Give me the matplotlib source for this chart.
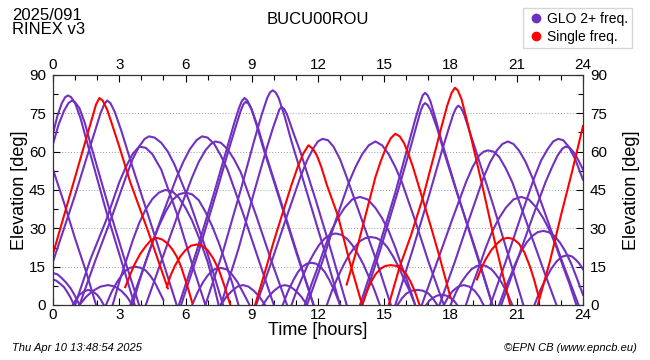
import numpy as np
import matplotlib.pyplot as plt
from matplotlib.lines import Line2D
from matplotlib.ticker import MultipleLocator

plt.rcParams['font.family'] = ['Liberation Sans', 'DejaVu Sans']

station = "BUCU00ROU"
day_label = "2025/091\nRINEX v3"
footer_left = "Thu Apr 10 13:48:54 2025"
footer_right = "\u00a9EPN CB (www.epncb.eu)"
legend_labels = ["GLO 2+ freq.", "Single freq."]

GLO_COLOR = "#7030c0"
SINGLE_COLOR = "#ff0000"

# satellite passes: (hour, elevation deg)
glo_passes = [
    [(0, 53), (0.5, 40), (1.0, 26), (1.5, 13), (1.95, 0)],
    [(0, 12.5), (0.2, 12), (0.4, 10.5), (0.6, 8.7), (0.8, 6.5), (1.0, 3.5), (1.2, 0)],
    [(0, 10), (0.15, 9.5), (0.3, 8.5), (0.5, 7), (0.65, 5), (0.8, 2.8), (0.95, 0)],
    [(0, 67), (0.2, 74), (0.4, 79), (0.55, 81.3), (0.68, 82), (0.82, 81.3), (1.0, 79), (1.25, 73),
     (1.5, 65), (2.4, 37), (3.0, 20), (3.7, 0)],
    [(0, 63), (0.25, 70.5), (0.5, 76), (0.7, 79), (0.86, 80), (1.0, 79.3), (1.2, 77), (1.45, 71),
     (1.7, 63), (2.5, 39), (3.2, 19), (3.9, 0)],
    [(0, 17), (0.5, 30), (1.0, 43), (1.5, 57), (1.9, 68), (2.15, 75), (2.32, 78.5), (2.45, 80),
     (2.6, 79), (2.8, 75.5), (3.1, 68), (3.6, 54), (4.5, 30), (5.6, 0)],
    [(1.0, 0), (1.7, 18), (2.4, 33), (3.0, 48), (3.3, 54), (3.6, 59), (3.9, 62), (4.2, 61.5),
     (4.5, 59), (4.9, 53), (5.6, 36), (6.3, 16), (6.9, 0)],
    [(1.2, 0), (1.9, 17), (2.6, 33), (3.3, 50), (3.6, 57), (3.9, 62), (4.15, 65), (4.35, 66),
     (4.6, 65.5), (4.9, 63.5), (5.2, 60), (5.5, 55), (6.2, 40), (7.0, 20), (7.7, 0)],
    [(2.7, 0), (3.0, 9), (3.3, 17), (3.6, 25), (3.9, 32), (4.2, 37.5), (4.5, 41.5), (4.8, 44),
     (5.08, 45), (5.4, 44.5), (5.7, 42), (6.0, 38), (6.3, 33), (6.65, 25.5), (7.0, 17), (7.25, 9), (7.5, 0)],
    [(3.6, 0), (3.9, 9), (4.2, 17), (4.5, 24.5), (4.8, 31), (5.1, 36.5), (5.4, 41), (5.7, 43.3),
     (6.0, 44), (6.3, 43.3), (6.6, 41), (6.9, 36.5), (7.2, 31), (7.5, 24.5), (7.8, 17), (8.1, 9), (8.4, 0)],
    [(0.9, 0), (1.05, 2.3), (1.2, 4), (1.4, 5.3), (1.6, 5.9), (1.8, 5.3), (2.0, 4), (2.15, 2.3), (2.3, 0)],
    [(1.2, 0), (1.5, 3.2), (1.8, 5.5), (2.15, 7.2), (2.5, 7.8), (2.8, 7.2), (3.1, 5.5), (3.35, 3.2), (3.6, 0)],
    [(2.4, 0), (2.65, 5), (2.9, 9), (3.1, 11.5), (3.3, 13.5), (3.5, 14.6), (3.72, 15), (3.95, 14.6),
     (4.2, 13.5), (4.4, 11.5), (4.6, 9), (4.8, 5.5), (5.0, 2)],
    [(3.5, 0), (4.2, 17), (4.9, 34), (5.6, 50), (5.9, 56), (6.2, 61), (6.5, 64.5), (6.75, 66),
     (7.0, 65.5), (7.3, 63), (7.6, 58.5), (7.9, 53), (8.6, 36), (9.3, 18), (10.0, 0)],
    [(4.2, 0), (4.9, 17), (5.6, 34), (6.3, 50), (6.6, 56), (6.9, 60.5), (7.15, 63), (7.35, 64),
     (7.6, 63.5), (7.9, 61), (8.2, 57), (8.5, 52), (9.2, 35), (9.9, 17), (10.6, 0)],
    [(6.3, 0), (6.55, 5), (6.8, 9), (7.0, 11.5), (7.2, 13.4), (7.4, 14.3), (7.6, 14.5), (7.85, 14),
     (8.1, 12), (8.35, 9), (8.6, 5), (8.9, 0)],
    [(7.6, 0), (7.85, 3.2), (8.1, 5.5), (8.35, 7.2), (8.6, 7.8), (8.85, 7.2), (9.1, 5.5), (9.35, 3.2), (9.6, 0)],
    [(9.5, 0), (9.75, 3.2), (10.0, 5.5), (10.25, 7.2), (10.5, 7.8), (10.75, 7.2), (11.0, 5.5), (11.25, 3.2), (11.5, 0)],
    [(10.4, 0), (10.65, 5.5), (10.9, 10), (11.1, 13), (11.3, 15), (11.5, 16.2), (11.7, 16.5),
     (11.9, 16.2), (12.1, 15), (12.3, 13), (12.5, 10), (12.75, 5.5), (13.0, 0)],
    [(5.7, 0), (6.5, 21), (7.3, 44), (7.9, 62), (8.2, 71), (8.42, 77), (8.55, 79.8), (8.67, 81),
     (8.8, 80), (8.95, 77.5), (9.2, 71), (9.5, 62), (10.2, 43), (11.0, 21), (11.8, 0)],
    [(5.8, 0), (6.6, 21), (7.4, 44), (8.0, 62), (8.3, 70.5), (8.5, 76), (8.62, 78.5), (8.72, 79.5),
     (8.85, 78.8), (9.0, 76.5), (9.3, 69), (9.6, 60), (10.3, 41), (11.1, 19), (11.8, 0)],
    [(6.9, 0), (7.7, 21), (8.5, 45), (9.1, 64), (9.45, 74.5), (9.7, 81), (9.83, 83.2), (9.95, 84),
     (10.08, 83.2), (10.22, 81), (10.5, 73.5), (10.8, 64), (11.5, 44), (12.3, 21), (13.0, 0)],
    [(7.6, 0), (8.4, 22), (9.1, 44), (9.7, 62), (9.95, 69), (10.15, 74), (10.25, 76.5), (10.35, 77.5),
     (10.47, 76.7), (10.6, 74.5), (10.9, 67), (11.2, 60), (11.9, 41), (12.6, 21), (13.3, 0)],
    [(9.2, 0), (9.9, 17), (10.6, 35), (11.2, 50), (11.5, 56.5), (11.8, 61.5), (12.0, 64), (12.2, 65),
     (12.45, 64.5), (12.7, 62), (13.0, 57), (13.3, 50), (14.0, 33), (14.7, 16), (15.3, 0)],
    [(11.5, 0), (12.2, 17), (12.8, 33), (13.4, 48), (13.7, 54), (14.0, 59), (14.3, 62.5), (14.6, 64),
     (14.9, 62.5), (15.2, 59), (15.5, 54), (15.8, 48), (16.4, 33), (17.0, 17), (17.7, 0)],
    [(11.4, 0), (11.7, 8), (12.0, 15), (12.3, 22.5), (12.6, 29), (12.9, 34), (13.2, 38), (13.55, 41.3),
     (13.9, 42.3), (14.25, 41.3), (14.6, 38), (14.9, 34), (15.2, 29), (15.5, 22.5), (15.8, 15), (16.1, 8), (16.4, 0)],
    [(10.8, 0), (11.05, 6), (11.3, 11), (11.55, 16), (11.8, 20), (12.05, 23.5), (12.3, 26), (12.55, 27.5),
     (12.8, 28), (13.05, 27.5), (13.3, 26), (13.55, 23.5), (13.8, 20), (14.05, 16), (14.3, 11), (14.55, 6), (14.8, 0)],
    [(12.4, 0), (12.65, 6), (12.9, 11), (13.15, 15.5), (13.4, 19.5), (13.65, 22.5), (13.9, 25), (14.15, 26.2),
     (14.4, 26.6), (14.65, 26.2), (14.9, 25), (15.15, 22.5), (15.4, 19), (15.65, 15), (15.9, 10), (16.15, 5.5), (16.4, 0)],
    [(15.6, 0), (15.8, 2.6), (16.0, 4.5), (16.25, 5.6), (16.5, 5.9), (16.75, 5.6), (17.0, 4.5), (17.2, 2.6), (17.4, 0)],
    [(16.9, 0), (17.05, 1.8), (17.25, 3), (17.4, 3.7), (17.6, 4), (17.8, 3.7), (17.95, 3), (18.15, 1.8), (18.3, 0)],
    [(17.7, 0), (17.9, 3.2), (18.1, 5.5), (18.35, 7.2), (18.6, 7.8), (18.85, 7.2), (19.1, 5.5), (19.3, 3.2), (19.5, 0)],
    [(18.0, 0), (18.25, 5), (18.5, 9), (18.75, 12), (18.95, 14), (19.2, 15.3), (19.4, 15.6), (19.6, 15.3),
     (19.85, 14), (20.05, 12), (20.3, 9), (20.55, 5), (20.8, 0)],
    [(13.9, 0), (14.7, 21), (15.5, 44), (16.1, 63), (16.4, 72.5), (16.62, 79), (16.74, 82), (16.85, 83),
     (16.97, 82), (17.1, 79.5), (17.35, 72), (17.6, 64), (18.3, 44), (19.1, 22), (19.9, 0)],
    [(14.0, 0), (14.8, 21), (15.6, 44), (16.2, 62), (16.47, 70.5), (16.65, 76), (16.76, 78.3), (16.85, 79),
     (16.96, 78.3), (17.1, 76.3), (17.4, 69), (17.7, 60), (18.4, 41), (19.2, 20), (19.9, 0)],
    [(15.5, 0), (16.3, 22), (17.0, 42), (17.6, 60), (17.9, 68.5), (18.12, 74.5), (18.25, 77), (18.35, 78),
     (18.47, 77.2), (18.6, 75), (18.9, 67), (19.2, 59), (19.9, 40), (20.6, 20), (21.3, 0)],
    [(16.7, 0), (17.4, 17), (18.1, 34), (18.7, 48), (19.0, 54), (19.3, 58.5), (19.5, 60), (19.7, 60.5),
     (19.95, 60), (20.2, 58), (20.5, 53.5), (20.8, 48), (21.5, 31), (22.2, 14), (22.8, 0)],
    [(17.5, 0), (18.2, 17), (18.9, 35), (19.5, 50), (19.8, 56), (20.1, 60.5), (20.35, 63), (20.6, 64),
     (20.85, 63), (21.1, 60.5), (21.4, 56), (21.7, 50), (22.4, 33), (23.1, 16), (23.8, 0)],
    [(18.7, 0), (19.0, 8), (19.3, 15), (19.6, 22.5), (19.9, 29), (20.2, 34), (20.5, 38), (20.85, 41.3),
     (21.2, 42.3), (21.55, 41.3), (21.9, 38), (22.2, 34), (22.5, 29), (22.8, 22.5), (23.1, 15), (23.4, 8), (23.7, 0)],
    [(20.2, 0), (20.45, 6), (20.7, 11), (20.95, 16.5), (21.2, 21), (21.45, 24.5), (21.7, 27), (21.95, 28.5),
     (22.2, 29), (22.45, 28.5), (22.7, 27), (22.95, 24.5), (23.2, 21), (23.45, 16.5), (23.7, 11), (24.0, 4)],
    [(21.8, 0), (22.05, 5.5), (22.3, 10), (22.55, 14), (22.8, 17), (23.05, 18.9), (23.3, 19.5), (23.5, 19),
     (23.7, 17.5), (23.85, 16), (24.0, 14)],
    [(19.8, 0), (20.5, 17), (21.2, 35), (21.8, 50), (22.1, 56.5), (22.4, 61), (22.65, 64), (22.87, 65),
     (23.1, 64.5), (23.35, 62), (23.65, 57), (24.0, 49)],
    [(20.3, 0), (21.0, 17), (21.7, 34), (22.3, 48), (22.6, 54), (22.85, 58.5), (23.05, 61), (23.2, 62),
     (23.4, 61.5), (23.6, 59.5), (23.8, 56.5), (24.0, 53)],
]

single_passes = [
    [(0, 20), (0.5, 35), (1.0, 50), (1.5, 65), (1.75, 72.5), (1.95, 78.5), (2.1, 81), (2.25, 80),
     (2.45, 76.5), (2.7, 70), (3.0, 62), (3.5, 48), (4.3, 29), (5.2, 6.5)],
    [(3.27, 7), (3.5, 12), (3.7, 16), (3.95, 20), (4.2, 23), (4.45, 25.5), (4.7, 26.3), (4.95, 25.6),
     (5.2, 24), (5.4, 21.8), (5.6, 19), (5.8, 15), (5.95, 11), (6.15, 5.5), (6.3, 1)],
    [(5.16, 7), (5.3, 11), (5.5, 15), (5.75, 18.8), (6.0, 21.5), (6.25, 23.2), (6.52, 23.7), (6.75, 23.2),
     (7.0, 21.5), (7.25, 18.3), (7.5, 14), (7.75, 7.8), (8.03, 0)],
    [(9.15, 0), (9.6, 13), (10.0, 25), (10.4, 36), (10.8, 47), (11.1, 54.5), (11.35, 59.5), (11.57, 62.5),
     (11.78, 61), (11.95, 58.5), (12.15, 54), (12.4, 47), (12.9, 35), (13.4, 18), (14.0, 0)],
    [(13.3, 8), (13.7, 20), (14.15, 35), (14.6, 50), (14.85, 56.5), (15.1, 62), (15.3, 65.3), (15.5, 67),
     (15.7, 66), (15.9, 63.3), (16.1, 59), (16.3, 54), (16.65, 44), (17.1, 31), (17.5, 19), (18.0, 3)],
    [(14.0, 0), (14.2, 5), (14.4, 9), (14.6, 12), (14.85, 14.3), (15.05, 15.3), (15.3, 15.6), (15.55, 15.3),
     (15.75, 14.3), (16.0, 12), (16.2, 9), (16.4, 5), (16.6, 0)],
    [(15.2, 0), (15.7, 15), (16.2, 27), (16.75, 42), (17.3, 60), (17.6, 70), (17.85, 78), (18.05, 83),
     (18.2, 85), (18.33, 84), (18.5, 80.5), (18.75, 72), (19.0, 63), (19.46, 46), (20.0, 25), (20.7, 0)],
    [(19.2, 10), (19.4, 14.5), (19.6, 18), (19.85, 21.5), (20.1, 24), (20.35, 25.8), (20.6, 26.3),
     (20.85, 25.8), (21.1, 24), (21.35, 20.5), (21.6, 15), (21.8, 9.5), (22.0, 3)],
    [(21.95, 0), (22.5, 17), (23.0, 35), (23.5, 52), (24.0, 70)],
]


fig = plt.figure(figsize=(6.5, 3.6), dpi=100)
ax = fig.add_axes([53 / 650, 1 - 305 / 360, 530 / 650, 230 / 360])

for arc in glo_passes:
    t, el = np.array(arc, dtype=float).T
    ax.plot(t, el, color=GLO_COLOR, lw=1.5, solid_joinstyle='round')
for arc in single_passes:
    t, el = np.array(arc, dtype=float).T
    ax.plot(t, el, color=SINGLE_COLOR, lw=1.5, solid_joinstyle='round')

ax.set_xlim(0, 24)
ax.set_ylim(0, 90)
ax.xaxis.set_major_locator(MultipleLocator(3))
ax.xaxis.set_minor_locator(MultipleLocator(1))
ax.yaxis.set_major_locator(MultipleLocator(15))
ax.yaxis.set_minor_locator(MultipleLocator(7.5))
ax.tick_params(which='both', direction='in', top=True, right=True,
               labeltop=True, labelright=True, labelsize=11, pad=2, width=0.8)
ax.tick_params(axis='y', which='major', pad=5)
ax.tick_params(which='major', length=5)
ax.tick_params(which='minor', length=3.5)
ax.yaxis.grid(True, ls=(0, (1, 2)), color='#999999', lw=0.7)
for s in ax.spines.values():
    s.set_linewidth(0.9)
    s.set_color('#333333')

ax.set_xlabel("Time [hours]", fontsize=13, labelpad=0)
ax.set_ylabel("Elevation [deg]", fontsize=13, labelpad=1)
ry = ax.secondary_yaxis('right')
ry.set_yticks([])
ry.set_ylabel("Elevation [deg]", fontsize=13, labelpad=29)
ry.spines['right'].set_visible(False)

fig.text(12 / 650, 1 - 8 / 360, day_label, va='top', ha='left', fontsize=12, linespacing=0.9)
fig.text(318 / 650, 1 - 20 / 360, station, va='center', ha='center', fontsize=12)
fig.text(12 / 650, 1 - 348 / 360, footer_left, va='center', ha='left', fontsize=8, style='italic')
fig.text(637 / 650, 1 - 348 / 360, footer_right, va='center', ha='right', fontsize=8, style='italic')

handles = [Line2D([], [], ls='none', marker='o', ms=6, color=GLO_COLOR),
           Line2D([], [], ls='none', marker='o', ms=6, color=SINGLE_COLOR)]
fig.legend(handles, legend_labels, loc='upper right', bbox_to_anchor=(639 / 650, 1 - 1 / 360),
           fontsize=10, frameon=True, fancybox=False, edgecolor='#cccccc',
           handletextpad=0.2, borderpad=0.3, labelspacing=0.3, handlelength=1.2)

fig.savefig("out.png", dpi=100)
